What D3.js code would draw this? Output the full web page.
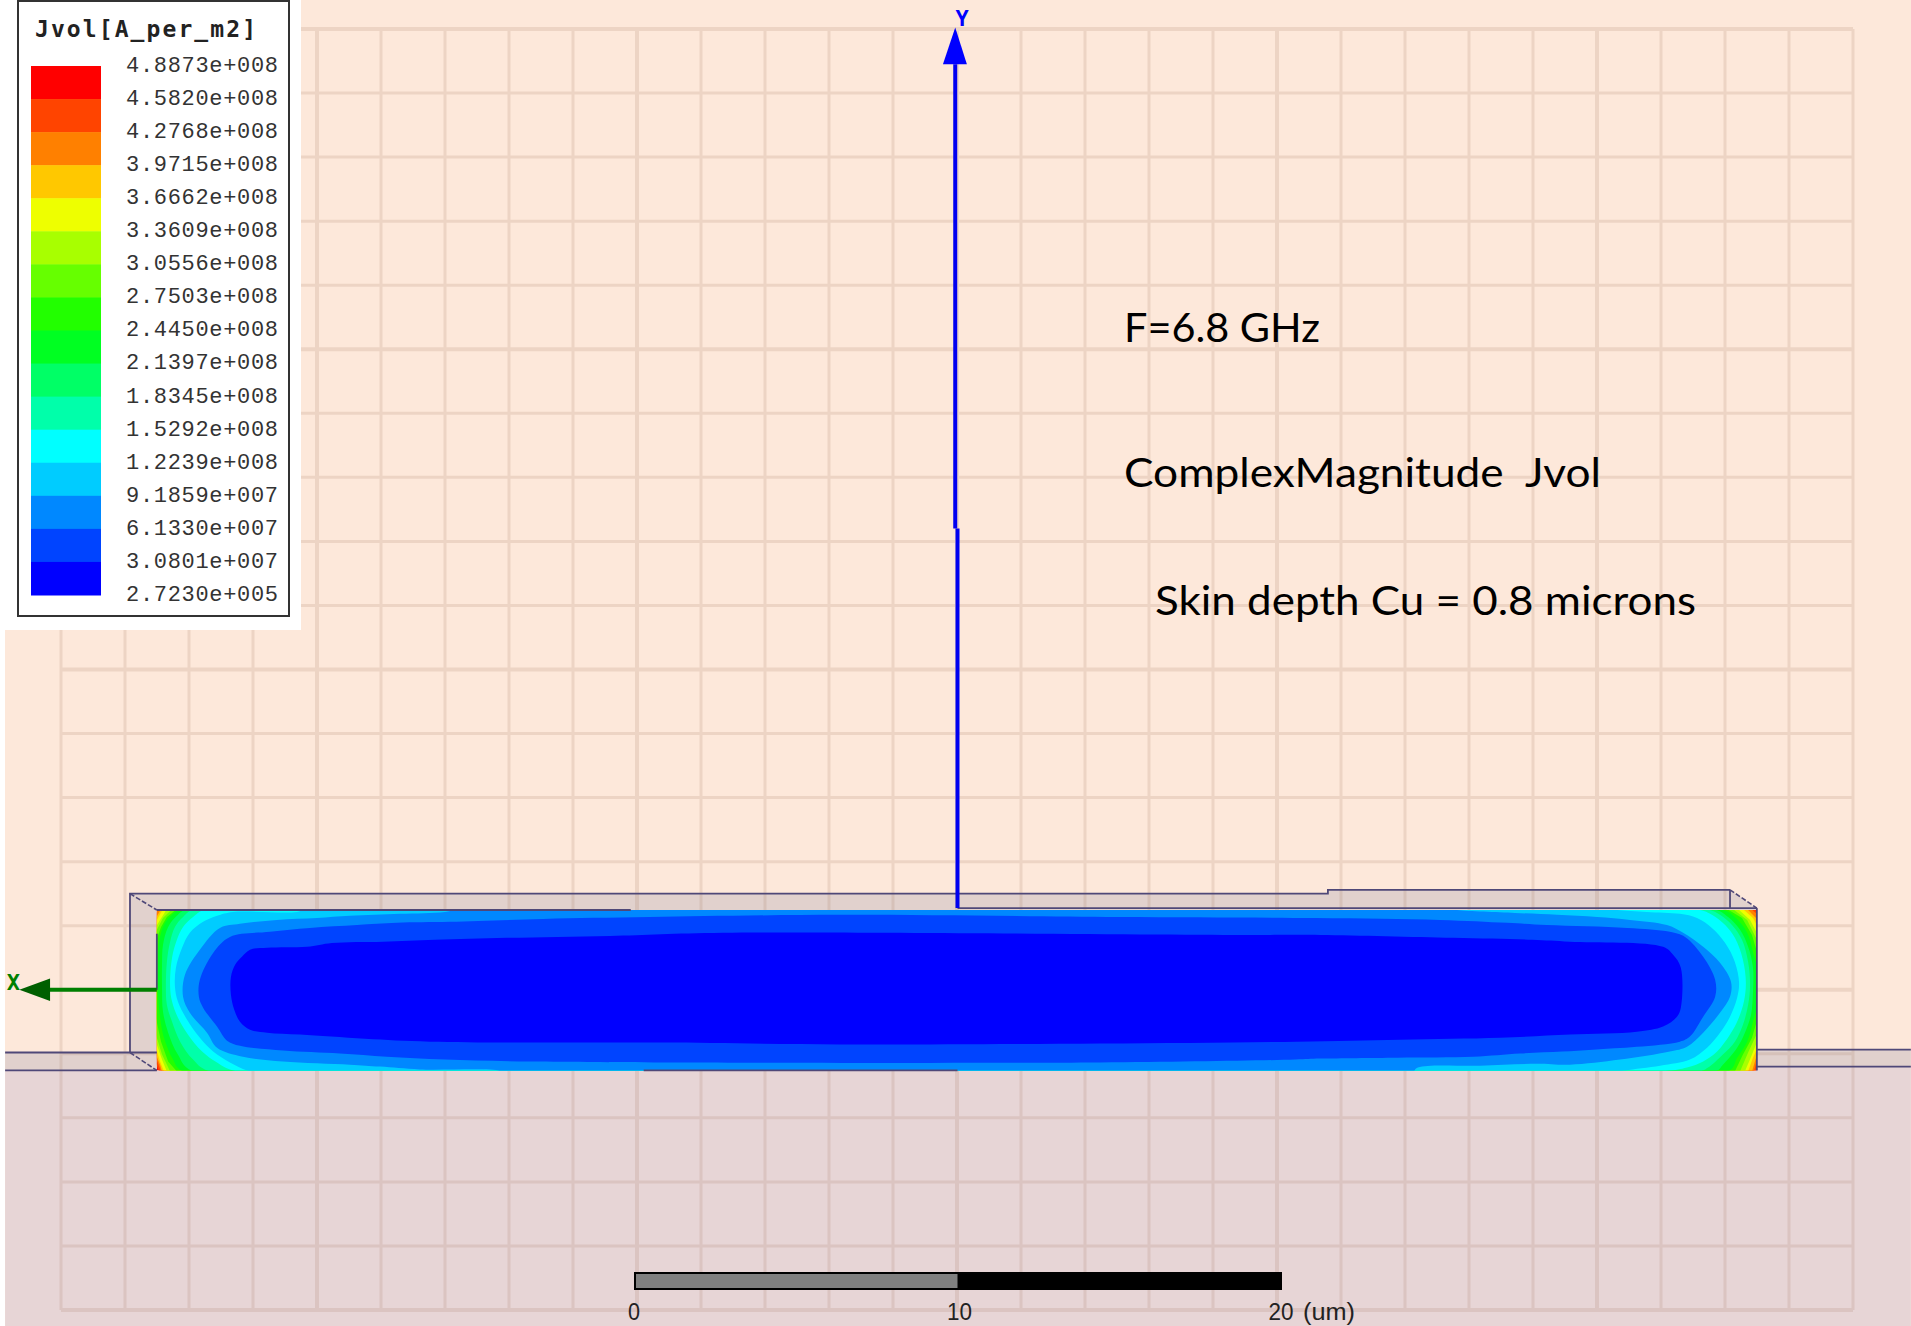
<!DOCTYPE html>
<html lang="en">
<head>
    <meta charset="UTF-8">
    <script src="https://d3js.org/d3.v7.min.js"></script>
    <style>
        html, body {
            margin: 0;
            padding: 0;
            background: white;
            overflow: hidden;
        }
        svg {
            display: block;
        }
        .note {
            font-family: Lato, "Open Sans", sans-serif;
            font-size: 41px;
            fill: black;
            white-space: pre;
        }
        .legend-label {
            font-family: "Liberation Mono", monospace;
            font-size: 22px;
            fill: #333;
        }
    </style>
</head>
<body>
    <div id="chart"></div>

    <script>
        // legend, top to bottom
        const legendTitle = "Jvol[A_per_m2]";
        const legendLabels = ["4.8873e+008", "4.5820e+008", "4.2768e+008", "3.9715e+008", "3.6662e+008", "3.3609e+008",
            "3.0556e+008", "2.7503e+008", "2.4450e+008", "2.1397e+008", "1.8345e+008", "1.5292e+008",
            "1.2239e+008", "9.1859e+007", "6.1330e+007", "3.0801e+007", "2.7230e+005"];
        const bandColors = ["#ff0000", "#ff4400", "#ff8000", "#ffc800", "#eeff00", "#a8ff00", "#66ff00", "#22ff00",
            "#00ff22", "#00ff66", "#00ffaa", "#00ffff", "#00ccff", "#0088ff", "#0044ff", "#0000ff"];

        const notes = ["F=6.8 GHz", "ComplexMagnitude  Jvol", "Skin depth Cu = 0.8 microns"];
        const rulerTicks = [0, 10, 20];
        const rulerUnit = "(um)";

        // conductor cross section in um
        const conductorX = [-14.75, 34.71];
        const conductorY = [-2.52, 2.49];

        // contour outlines in um, one per band boundary, hottest first.
        // each one encloses everything colder than the boundary
        const below4_58 = [[-14.78,2.43],[-14.74,2.52],[34.62,2.52],[34.74,2.43],[34.74,-2.24],[34.68,-2.55],[-14.68,-2.55],[-14.78,-2.30]];
        const below4_28 = [[-14.78,2.37],[-14.71,2.52],[34.53,2.52],[34.74,2.34],[34.74,-2.09],[34.62,-2.55],[-14.62,-2.55],[-14.78,-2.12]];
        const below3_97 = [[-14.78,2.24],[-14.62,2.52],[34.41,2.52],[34.74,2.18],[34.74,-1.93],[34.56,-2.55],[-14.59,-2.55],[-14.65,-2.34],[-14.78,-2.02]];
        const below3_67 = [[-14.78,2.12],[-14.56,2.52],[34.28,2.52],[34.59,2.24],[34.74,1.96],[34.74,-1.78],[34.59,-2.12],[34.44,-2.55],[-14.53,-2.55],[-14.65,-2.24],[-14.78,-1.81]];
        const below3_36 = [[-14.78,1.96],[-14.65,2.18],[-14.44,2.52],[34.13,2.52],[34.50,2.18],[34.74,1.71],[34.74,-1.56],[34.56,-2.02],[34.34,-2.55],[-14.44,-2.55],[-14.59,-2.18],[-14.78,-1.62]];
        const below3_06 = [[-14.78,1.81],[-14.56,2.24],[-14.28,2.52],[33.97,2.52],[34.41,2.18],[34.74,1.50],[34.74,-1.31],[34.44,-1.96],[34.19,-2.55],[-14.34,-2.55],[-14.59,-2.02],[-14.78,-1.40]];
        const below2_75 = [[-14.78,1.50],[-14.62,1.96],[-14.44,2.27],[-14.13,2.52],[33.79,2.52],[34.25,2.24],[34.56,1.71],[34.74,1.09],[34.74,-.87],[34.56,-1.50],[34.28,-2.02],[34.03,-2.55],[-14.13,-2.55],[-14.40,-2.24],[-14.62,-1.62],[-14.78,-.87]];
        const below2_45 = [[-13.97,2.52],[33.57,2.52],[34.03,2.27],[34.41,1.78],[34.59,1.18],[34.74,.56],[34.74,-.37],[34.59,-1.0],[34.41,-1.62],[34.10,-2.12],[33.82,-2.55],[-13.94,-2.55],[-14.25,-2.18],[-14.53,-1.50],[-14.65,-.87],[-14.71,-.16],[-14.71,.87],[-14.68,1.50],[-14.53,2.02],[-14.28,2.34]];
        const below2_14 = [[-13.79,2.52],[33.35,2.52],[33.82,2.27],[34.19,1.87],[34.44,1.34],[34.59,.69],[34.59,-.06],[34.53,-.78],[34.34,-1.34],[34.10,-1.81],[33.66,-2.34],[33.42,-2.55],[-13.63,-2.55],[-14.10,-2.02],[-14.40,-1.34],[-14.56,-.69],[-14.59,.06],[-14.59,.78],[-14.56,1.40],[-14.40,1.96],[-14.13,2.31]];
        const below1_83 = [[-13.57,2.52],[33.11,2.52],[33.57,2.34],[33.94,2.02],[34.25,1.56],[34.44,.87],[34.50,.16],[34.44,-.47],[34.28,-1.09],[34.03,-1.62],[33.66,-2.02],[33.20,-2.43],[32.95,-2.55],[-13.11,-2.55],[-13.63,-2.18],[-14.03,-1.62],[-14.28,-1.0],[-14.44,-.47],[-14.47,.09],[-14.44,.87],[-14.34,1.50],[-14.19,1.96],[-13.94,2.27]];
        const below1_53 = [[-13.20,2.52],[32.80,2.52],[33.32,2.34],[33.73,2.02],[34.03,1.62],[34.28,.93],[34.37,.22],[34.31,-.37],[34.13,-.93],[33.88,-1.40],[33.48,-1.93],[33.05,-2.24],[32.55,-2.43],[31.72,-2.55],[-12.27,-2.55],[-12.89,-2.27],[-13.35,-1.93],[-13.79,-1.40],[-14.10,-.87],[-14.28,-.37],[-14.34,.09],[-14.28,1.0],[-14.13,1.56],[-13.94,1.96],[-13.63,2.27]];
        const below1_22 = [[-10.42,2.43],[-10.02,2.55],[30.1,2.55],[30.39,2.49],[31.31,2.43],[32.33,2.37],[32.86,2.24],[33.32,1.93],[33.73,1.46],[34.03,.87],[34.16,.22],[34.10,-.25],[33.88,-.84],[33.57,-1.34],[33.17,-1.81],[32.64,-2.18],[31.72,-2.37],[30.63,-2.52],[30.17,-2.62],[-11.56,-2.62],[-11.96,-2.52],[-12.49,-2.27],[-13.01,-1.93],[-13.42,-1.50],[-13.82,-.93],[-14.10,-.37],[-14.19,.09],[-14.16,.69],[-13.97,1.31],[-13.73,1.78],[-13.32,2.12],[-12.89,2.31],[-12.40,2.43]];
        const below0_92 = [[-5.84,2.43],[-5.2,2.55],[25.1,2.55],[25.44,2.49],[27.23,2.40],[28.53,2.34],[29.77,2.27],[30.79,2.18],[31.93,2.02],[32.43,1.78],[33.05,1.34],[33.57,.84],[33.91,.25],[33.88,-.22],[33.57,-.72],[33.05,-1.34],[32.55,-1.78],[32.02,-1.93],[30.48,-2.18],[28.93,-2.34],[27.91,-2.31],[26.15,-2.37],[24.23,-2.43],[24.0,-2.62],[-4.14,-2.62],[-4.14,-2.55],[-6.62,-2.49],[-7.85,-2.40],[-8.78,-2.34],[-10.85,-2.24],[-12.09,-2.09],[-12.89,-1.81],[-13.20,-1.34],[-13.73,-.72],[-13.94,-.22],[-13.88,.47],[-13.42,1.25],[-12.80,1.93],[-12.18,2.06],[-11.04,2.18],[-9.80,2.24],[-8.78,2.31],[-7.23,2.37]];
        const below0_61 = [[-12.49,1.65],[-11.25,1.81],[-10.02,1.93],[-8.56,2.02],[-7.33,2.09],[-5.69,2.12],[-2.81,2.21],[.49,2.27],[6.37,2.34],[14.96,2.27],[21.05,2.24],[24.91,2.18],[26.99,2.09],[28.22,2.02],[30.70,1.93],[32.02,1.81],[32.49,1.65],[33.05,1.03],[33.42,.31],[33.42,-.22],[33.05,-.84],[32.64,-1.46],[32.33,-1.62],[31.00,-1.78],[29.64,-1.87],[28.69,-1.93],[27.39,-1.99],[25.94,-2.09],[23.59,-2.12],[21.21,-2.15],[20.43,-2.18],[14.40,-2.27],[1.33,-2.27],[-3.21,-2.24],[-5.84,-2.18],[-7.64,-2.09],[-9.09,-1.99],[-10.85,-1.90],[-12.18,-1.75],[-12.58,-1.59],[-12.89,-1.15],[-13.32,-.56],[-13.45,-.22],[-13.42,.31],[-13.01,1.15]];
        const below0_31 = [[-11.87,1.25],[-11.34,1.31],[-10.11,1.34],[-9.34,1.46],[-7.76,1.50],[-6.15,1.56],[-3.93,1.62],[-.74,1.68],[2.75,1.78],[19.13,1.71],[21.21,1.71],[25.32,1.62],[27.76,1.56],[28.93,1.50],[31.81,1.34],[32.12,1.09],[32.36,.69],[32.36,-.56],[32.24,-.84],[31.81,-1.15],[31.00,-1.31],[28.93,-1.40],[26.77,-1.50],[23.68,-1.56],[20.49,-1.62],[14.40,-1.68],[6.37,-1.71],[.90,-1.65],[-2.19,-1.65],[-6.31,-1.62],[-8.32,-1.53],[-10.32,-1.40],[-11.34,-1.34],[-11.87,-1.25],[-12.18,-1.00],[-12.36,-.62],[-12.46,-.16],[-12.46,.40],[-12.33,.78],[-12.12,1.03]];

        const contourRings = [below4_58, below4_28, below3_97, below3_67, below3_36, below3_06, below2_75, below2_45,
            below2_14, below1_83, below1_53, below1_22, below0_92, below0_61, below0_31];

        // box outline around the conductor and the substrate edges, um
        const backWall = [[-15.58,3.0],[21.45,3.0],[21.45,3.12],[33.88,3.12],[34.71,2.52],[34.71,2.49],[-14.75,2.49],[-14.75,-2.52],[-15.58,-1.96]];
        const substrateLeft = [[-19.44,-1.96],[-14.75,-1.96],[-14.75,-2.52],[-19.44,-2.52]];
        const substrateRight = [[34.71,-1.87],[39.47,-1.87],[39.47,-2.40],[34.71,-2.40]];
        const frameLines = [
            [[-15.58,-1.96],[-15.58,3.0],[21.45,3.0],[21.45,3.12],[33.88,3.12]],
            [[33.88,3.12],[33.88,2.52]],
            [[-19.44,-1.96],[-14.75,-1.96]],
            [[-19.44,-2.52],[-14.75,-2.52]],
            [[34.71,-1.87],[39.47,-1.87]],
            [[34.71,-2.40],[39.47,-2.40]],
            [[-14.75,2.49],[-0.1,2.49]],
            [[10,2.55],[34.71,2.55]],
            [[0.3,-2.52],[10,-2.52]],
            [[34.71,2.55],[34.71,-2.52]],
            [[-14.75,1.75],[-14.75,0]]
        ];
        const frameDashes = [
            [[-15.58,3.0],[-14.75,2.49]],
            [[-15.58,-1.96],[-14.75,-2.52]],
            [[33.88,3.12],[34.71,2.55]]
        ];

        const yAxisLine = [[[10,2.55],[10,14.4]], [[9.93,14.4],[9.93,28.9]]];
        const yAxisHead = [[9.55,28.9],[9.93,30.05],[10.29,28.9]];
        const xAxisLine = [[-14.75,0],[-18.1,0]];
        const xAxisHead = [[-18.05,.35],[-19.0,0],[-18.05,-.35]];

        const width = 1911, height = 1326;

        const svg = d3.select("#chart")
            .append("svg")
            .attr("width", width)
            .attr("height", height);

        // the grid does not quite line up with the ruler in the picture, so it gets its own x scale
        const gridX = d3.scaleLinear().domain([-18, 38]).range([61, 1853]);
        const x = d3.scaleLinear().domain([0, 20]).range([634, 1281]);
        const y = d3.scaleLinear().domain([-10, 30]).range([1310, 29]);
        const path = d3.line().x(d => x(d[0])).y(d => y(d[1]));
        const smoothRing = d3.line().x(d => x(d[0])).y(d => y(d[1])).curve(d3.curveCatmullRomClosed.alpha(0.5));

        // page background
        svg.append("rect").attr("width", width).attr("height", height).attr("fill", "white");
        svg.append("rect").attr("x", 5).attr("width", width - 5).attr("height", height).attr("fill", "#fde8da");
        svg.append("path")
            .attr("d", path([[-19.44,-2.52],[-14.75,-2.52],[34.71,-2.52],[34.71,-2.40],[39.47,-2.40],[39.47,-12],[-19.44,-12]]))
            .attr("fill", "#e7d5d6");

        svg.selectAll(".wall")
            .data([backWall, substrateLeft, substrateRight])
            .enter()
            .append("path")
            .attr("class", "wall")
            .attr("d", d => path(d) + "Z")
            .attr("fill", "#e1d1cd");

        // grid, 2 um minor and 10 um major
        const grid = svg.append("g").attr("stroke", "#9a6a50").attr("opacity", 0.15);
        grid.selectAll(".vline")
            .data(d3.range(-18, 39, 2))
            .enter()
            .append("line")
            .attr("class", "vline")
            .attr("x1", d => gridX(d))
            .attr("x2", d => gridX(d))
            .attr("y1", y(30))
            .attr("y2", y(-10))
            .attr("stroke-width", d => d % 10 === 0 ? 4 : 3);
        grid.selectAll(".hline")
            .data(d3.range(-10, 31, 2))
            .enter()
            .append("line")
            .attr("class", "hline")
            .attr("x1", gridX(-18))
            .attr("x2", gridX(38))
            .attr("y1", d => y(d))
            .attr("y2", d => y(d))
            .attr("stroke-width", d => d % 10 === 0 ? 4 : 3);

        // filled contour bands, clipped to the conductor
        svg.append("clipPath")
            .attr("id", "conductor")
            .append("rect")
            .attr("x", x(conductorX[0]))
            .attr("y", y(conductorY[1]))
            .attr("width", x(conductorX[1]) - x(conductorX[0]))
            .attr("height", y(conductorY[0]) - y(conductorY[1]));

        const field = svg.append("g").attr("clip-path", "url(#conductor)");
        field.append("rect")
            .attr("x", x(conductorX[0]))
            .attr("y", y(conductorY[1]))
            .attr("width", x(conductorX[1]) - x(conductorX[0]))
            .attr("height", y(conductorY[0]) - y(conductorY[1]))
            .attr("fill", bandColors[0]);
        field.selectAll(".band")
            .data(contourRings)
            .enter()
            .append("path")
            .attr("class", "band")
            .attr("d", (d, i) => i < 7 ? path(d) + "Z" : smoothRing(d))
            .attr("fill", (d, i) => bandColors[i + 1]);

        // outlines
        svg.selectAll(".frame")
            .data(frameLines)
            .enter()
            .append("path")
            .attr("class", "frame")
            .attr("d", d => path(d))
            .attr("fill", "none")
            .attr("stroke", "#4f4878")
            .attr("stroke-width", 1.8);
        svg.selectAll(".frame-dash")
            .data(frameDashes)
            .enter()
            .append("path")
            .attr("class", "frame-dash")
            .attr("d", d => path(d))
            .attr("fill", "none")
            .attr("stroke", "#4f4878")
            .attr("stroke-width", 1.6)
            .attr("stroke-dasharray", "5,2");

        // Y axis
        svg.selectAll(".y-axis")
            .data(yAxisLine)
            .enter()
            .append("path")
            .attr("class", "y-axis")
            .attr("d", d => path(d))
            .attr("stroke", "#0000f0")
            .attr("stroke-width", 4);
        svg.append("path").attr("d", path(yAxisHead) + "Z").attr("fill", "#0000ff");
        svg.append("text")
            .attr("x", x(yAxisHead[1][0]) + 7)
            .attr("y", y(yAxisHead[1][1]) - 1)
            .attr("text-anchor", "middle")
            .attr("font-family", "'DejaVu Sans Mono', monospace")
            .attr("font-weight", "bold")
            .attr("font-size", 22)
            .attr("fill", "#0000ff")
            .text("Y");

        // X axis
        svg.append("path")
            .attr("d", path(xAxisLine))
            .attr("stroke", "#007f00")
            .attr("stroke-width", 4);
        svg.append("path").attr("d", path(xAxisHead) + "Z").attr("fill", "#005f00");
        svg.append("text")
            .attr("x", x(xAxisHead[1][0]) - 6)
            .attr("y", y(0))
            .attr("text-anchor", "middle")
            .attr("font-family", "'DejaVu Sans Mono', monospace")
            .attr("font-weight", "bold")
            .attr("font-size", 22)
            .attr("fill", "#007f00")
            .text("X");

        // scale ruler at the bottom
        const ruler = svg.append("g");
        ruler.append("rect")
            .attr("x", x(0))
            .attr("y", 1272)
            .attr("width", x(20) - x(0) + 1)
            .attr("height", 18)
            .attr("fill", "black");
        ruler.append("rect")
            .attr("x", x(0) + 2)
            .attr("y", 1274)
            .attr("width", x(10) - x(0) - 2)
            .attr("height", 14)
            .attr("fill", "#808080");
        ruler.selectAll(".tick")
            .data(rulerTicks)
            .enter()
            .append("text")
            .attr("class", "tick")
            .attr("x", d => x(d) + (d === 10 ? 2 : 0))
            .attr("y", 1320)
            .attr("text-anchor", "middle")
            .attr("font-family", "'Liberation Sans', sans-serif")
            .attr("font-size", 23)
            .attr("textLength", d => d === 0 ? 12 : 25)
            .attr("lengthAdjust", "spacingAndGlyphs")
            .attr("fill", "#222")
            .text(d => d);
        ruler.append("text")
            .attr("x", 1303)
            .attr("y", 1320)
            .attr("font-family", "'Liberation Sans', sans-serif")
            .attr("font-size", 23)
            .attr("textLength", 52)
            .attr("lengthAdjust", "spacingAndGlyphs")
            .attr("fill", "#222")
            .text(rulerUnit);

        // annotation text
        const noteX = [1124, 1124, 1155];
        const noteY = [342, 487, 615];
        const noteW = [196, 477, 541];
        svg.selectAll(".note")
            .data(notes)
            .enter()
            .append("text")
            .attr("class", "note")
            .attr("x", (d, i) => noteX[i])
            .attr("y", (d, i) => noteY[i])
            .attr("textLength", (d, i) => noteW[i])
            .attr("lengthAdjust", "spacingAndGlyphs")
            .text(d => d);

        // legend
        const legend = svg.append("g");
        legend.append("rect").attr("width", 301).attr("height", 630).attr("fill", "white");
        legend.append("rect")
            .attr("x", 18)
            .attr("y", 1)
            .attr("width", 271)
            .attr("height", 615)
            .attr("fill", "white")
            .attr("stroke", "#333")
            .attr("stroke-width", 2);
        legend.append("text")
            .attr("x", 35)
            .attr("y", 37)
            .attr("font-family", "'DejaVu Sans Mono', monospace")
            .attr("font-weight", "bold")
            .attr("font-size", 23)
            .attr("textLength", 221)
            .attr("fill", "#222")
            .text(legendTitle);

        const legendBand = d3.scaleBand()
            .domain(d3.range(bandColors.length))
            .range([66, 595]);
        legend.selectAll(".legend-swatch")
            .data(bandColors)
            .enter()
            .append("rect")
            .attr("class", "legend-swatch")
            .attr("x", 31)
            .attr("y", (d, i) => legendBand(i))
            .attr("width", 70)
            .attr("height", legendBand.bandwidth() + 0.5)
            .attr("fill", d => d);

        const legendY = d3.scalePoint()
            .domain(legendLabels)
            .range([64, 593]);
        legend.selectAll(".legend-label")
            .data(legendLabels)
            .enter()
            .append("text")
            .attr("class", "legend-label")
            .attr("x", 126)
            .attr("y", d => legendY(d))
            .attr("dy", "0.36em")
            .attr("textLength", 152)
            .text(d => d);
    </script>
</body>
</html>
